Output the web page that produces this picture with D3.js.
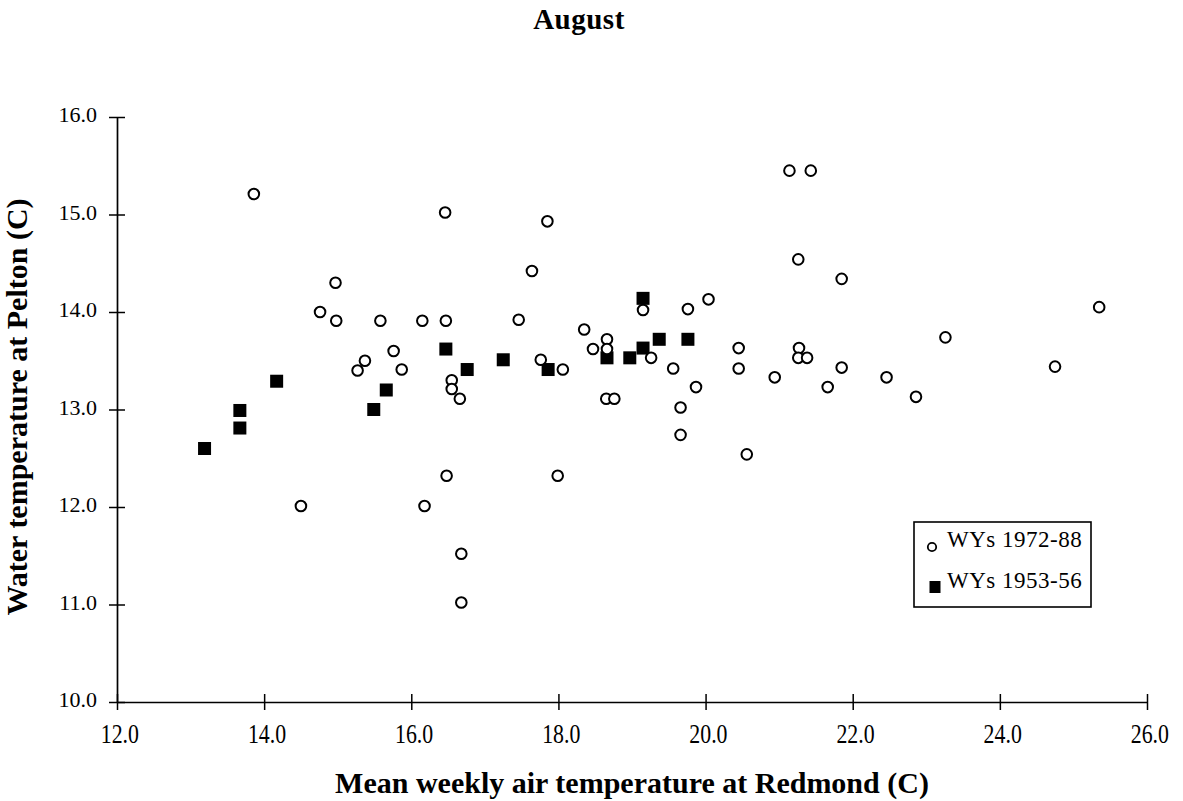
<!DOCTYPE html>
<html>
<head>
<meta charset="utf-8">
<script src="https://cdn.jsdelivr.net/npm/d3@7"></script>
<style>
  body { margin: 0; background: #fff; }
  svg { display: block; }
</style>
</head>
<body>
<svg id="chart" width="1183" height="801"></svg>
<script>
// Weekly means for August: air temperature at Redmond vs. water temperature at Pelton (°C)
const airTemp7288 = [
  13.86, 14.97, 14.76, 14.98, 15.58, 15.76, 15.37, 15.27, 15.87, 16.46,
  17.85, 17.64, 19.15, 19.76, 20.04, 16.15, 16.47, 17.46, 18.35, 18.66,
  18.47, 18.66, 19.26, 17.76, 18.06, 16.55, 16.55, 16.66, 18.65, 18.76,
  19.56, 19.87, 19.66, 19.66, 20.45, 20.45, 20.94, 20.56, 21.14, 21.43,
  21.26, 21.85, 25.35, 23.26, 24.75, 21.27, 21.26, 21.38, 21.85, 21.66,
  22.46, 22.86, 16.48, 17.99, 14.50, 16.18, 16.68, 16.68
];
const waterTemp7288 = [
  15.21, 14.30, 14.00, 13.91, 13.91, 13.60, 13.50, 13.40, 13.41, 15.02,
  14.93, 14.42, 14.02, 14.03, 14.13, 13.91, 13.91, 13.92, 13.82, 13.72,
  13.62, 13.62, 13.53, 13.51, 13.41, 13.30, 13.21, 13.11, 13.11, 13.11,
  13.42, 13.23, 13.02, 12.74, 13.63, 13.42, 13.33, 12.54, 15.45, 15.45,
  14.54, 14.34, 14.05, 13.74, 13.44, 13.63, 13.53, 13.53, 13.43, 13.23,
  13.33, 13.13, 12.32, 12.32, 12.01, 12.01, 11.52, 11.02
];
const airTemp5356 = [
  13.19, 13.67, 13.67, 14.17, 15.49, 15.66, 16.47, 16.76, 17.25, 17.86,
  18.66, 18.97, 19.15, 19.15, 19.37, 19.76
];
const waterTemp5356 = [
  12.60, 12.99, 12.81, 13.29, 13.00, 13.20, 13.62, 13.41, 13.51, 13.41,
  13.53, 13.53, 13.63, 14.14, 13.72, 13.72
];

const xTickValues = [12, 14, 16, 18, 20, 22, 24, 26];
const yTickValues = [10, 11, 12, 13, 14, 15, 16];
const seriesLabels = ["WYs 1972-88", "WYs 1953-56"];
const chartTitle = "August";
const xAxisTitle = "Mean weekly air temperature at Redmond (C)";
const yAxisTitle = "Water temperature at Pelton (C)";

const serif = "'Liberation Serif', 'Times New Roman', Times, serif";
const svg = d3.select("#chart");

const x = d3.scaleLinear().domain([12, 26]).range([117, 1147]);
const y = d3.scaleLinear().domain([10, 16]).range([702, 117]);
const fmt = d3.format(".1f");

// X axis with ticks that cross the axis line
const gx = svg.append("g")
  .attr("transform", `translate(0,${y(10)})`)
  .call(d3.axisBottom(x).tickValues(xTickValues).tickFormat(fmt).tickSizeOuter(0))
  .attr("font-family", serif);
gx.select(".domain").attr("stroke", "#000").attr("stroke-width", 1.7);
gx.selectAll(".tick line").attr("y1", -8).attr("y2", 8).attr("stroke", "#000").attr("stroke-width", 1.5);
gx.selectAll(".tick text")
  .attr("fill", "#000")
  .attr("font-size", 28)
  .attr("y", 41).attr("dy", null).attr("x", 3)
  .attr("transform", "scale(0.78,1)");

// Y axis
const gy = svg.append("g")
  .attr("transform", `translate(${x(12)},0)`)
  .call(d3.axisLeft(y).tickValues(yTickValues).tickFormat(fmt).tickSizeOuter(0))
  .attr("font-family", serif);
gy.select(".domain").attr("stroke", "#000").attr("stroke-width", 1.7);
gy.selectAll(".tick line").attr("x1", -8).attr("x2", 8).attr("stroke", "#000").attr("stroke-width", 1.5);
gy.selectAll(".tick text")
  .attr("fill", "#000")
  .attr("font-size", 22)
  .attr("x", -20).attr("dy", null).attr("y", 4.5);

// Series 1953-56: filled squares
const sq = 13;
svg.append("g").selectAll("rect")
  .data(d3.zip(airTemp5356, waterTemp5356))
  .join("rect")
  .attr("x", d => x(d[0]) - sq / 2)
  .attr("y", d => y(d[1]) - sq / 2)
  .attr("width", sq).attr("height", sq)
  .attr("fill", "#000");

// Series 1972-88: open circles
svg.append("g").selectAll("circle")
  .data(d3.zip(airTemp7288, waterTemp7288))
  .join("circle")
  .attr("cx", d => x(d[0]))
  .attr("cy", d => y(d[1]))
  .attr("r", 5.3)
  .attr("fill", "#fff")
  .attr("stroke", "#000")
  .attr("stroke-width", 2);

// Legend
const legend = svg.append("g").attr("font-family", serif);
legend.append("rect")
  .attr("x", 914).attr("y", 522).attr("width", 177).attr("height", 85)
  .attr("fill", "#fff").attr("stroke", "#000").attr("stroke-width", 1.6);
legend.append("circle")
  .attr("cx", 932).attr("cy", 547).attr("r", 4.2)
  .attr("fill", "#fff").attr("stroke", "#000").attr("stroke-width", 1.8);
legend.append("rect")
  .attr("x", 929.5).attr("y", 581).attr("width", 11).attr("height", 12)
  .attr("fill", "#000");
legend.selectAll("text")
  .data(seriesLabels)
  .join("text")
  .attr("x", 947)
  .attr("y", (d, i) => 547 + i * 41)
  .attr("font-size", 23)
  .attr("letter-spacing", 0.5)
  .attr("fill", "#000")
  .text(d => d);

// Titles
svg.append("text")
  .attr("x", 579).attr("y", 29)
  .attr("text-anchor", "middle")
  .attr("font-family", serif).attr("font-weight", "bold")
  .attr("font-size", 29).attr("letter-spacing", 0.5)
  .text(chartTitle);

svg.append("text")
  .attr("x", 632).attr("y", 793)
  .attr("text-anchor", "middle")
  .attr("font-family", serif).attr("font-weight", "bold")
  .attr("font-size", 30)
  .text(xAxisTitle);

svg.append("text")
  .attr("transform", "translate(27,407) rotate(-90)")
  .attr("text-anchor", "middle")
  .attr("font-family", serif).attr("font-weight", "bold")
  .attr("font-size", 30)
  .text(yAxisTitle);
</script>
</body>
</html>
